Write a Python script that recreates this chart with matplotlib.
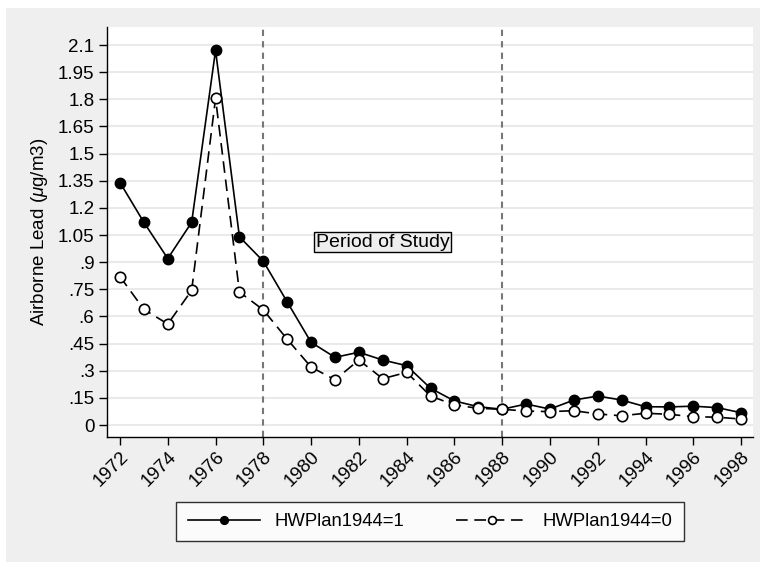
import matplotlib.pyplot as plt
import matplotlib.patches as mpatches
import numpy as np

plt.rcParams['font.family'] = ['Liberation Sans', 'DejaVu Sans']
plt.rcParams['mathtext.fontset'] = 'custom'
plt.rcParams['mathtext.it'] = 'Liberation Sans:italic'

years = np.arange(1972, 1999)
lead_plan1 = [1.34, 1.12, 0.92, 1.12, 2.07, 1.04, 0.905, 0.68, 0.457, 0.374, 0.402,
              0.359, 0.328, 0.203, 0.133, 0.101, 0.087, 0.116, 0.088, 0.138, 0.160,
              0.138, 0.101, 0.100, 0.104, 0.096, 0.068]
lead_plan0 = [0.82, 0.639, 0.558, 0.744, 1.805, 0.735, 0.636, 0.474, 0.32, 0.25, 0.359,
              0.256, 0.291, 0.16, 0.111, 0.092, 0.087, 0.077, 0.074, 0.079, 0.061,
              0.051, 0.065, 0.059, 0.046, 0.043, 0.033]
yticks = [0, 0.15, 0.3, 0.45, 0.6, 0.75, 0.9, 1.05, 1.2, 1.35, 1.5, 1.65, 1.8, 1.95, 2.1]
ytick_labels = ['0', '.15', '.3', '.45', '.6', '.75', '.9', '1.05', '1.2', '1.35',
                '1.5', '1.65', '1.8', '1.95', '2.1']
study_years = [1978, 1988]

W, H = 760, 562
fig = plt.figure(figsize=(W / 100, H / 100), dpi=100, facecolor='white')
# fond gris façon Stata
fig.patches.append(mpatches.Rectangle((6 / W, 0), 1, 1 - 8 / H, transform=fig.transFigure,
                                      facecolor='#efefef', edgecolor='none', zorder=-10))

ax = fig.add_axes([107 / W, 1 - 437 / H, (753 - 107) / W, (437 - 27) / H])
ax.set_facecolor('white')

for y in yticks:
    ax.axhline(y, color='#eaeaea', lw=1.5, zorder=0)
for yr in study_years:
    ax.axvline(yr, color='#777777', lw=1.5, ls=(0, (3, 2.5)), zorder=1)

ax.plot(years, lead_plan1, '-', color='black', lw=1.2, marker='o', ms=7.5,
        mfc='black', mec='black', zorder=3, label='HWPlan1944=1')
ax.plot(years, lead_plan0, color='black', lw=1.2, ls=(0, (7, 4)), marker='o', ms=7.5,
        mfc='white', mec='black', mew=1.2, zorder=3, label='HWPlan1944=0')

ax.text(1983, 1.01, 'Period of Study', fontsize=14, ha='center', va='center',
        bbox=dict(boxstyle='square,pad=0.08', facecolor='#eeeeee', edgecolor='black', lw=1))

ax.set_xlim(1971.456, 1998.5)
ax.set_ylim(-0.0663, 2.1995)
ax.set_xticks(np.arange(1972, 1999, 2))
ax.set_xticklabels([str(y) for y in range(1972, 1999, 2)], rotation=45, ha='right',
                   rotation_mode='anchor', fontsize=13.5)
ax.set_yticks(yticks)
ax.set_yticklabels(ytick_labels, fontsize=13.5)
ax.tick_params(axis='both', direction='out', length=6, width=1, color='black')
ax.tick_params(axis='y', pad=3)
ax.tick_params(axis='x', pad=2)
for s in ['top', 'right']:
    ax.spines[s].set_visible(False)
for s in ['left', 'bottom']:
    ax.spines[s].set_linewidth(1)
ax.set_ylabel(r'Airborne Lead ($\mu$g/m3)', fontsize=13.5, labelpad=6)

leg = fig.legend(loc='center', bbox_to_anchor=(430 / W, 1 - 521.5 / H), ncol=2,
                 fontsize=13.3, frameon=True, fancybox=False, edgecolor='black',
                 handlelength=3.9, handletextpad=0.8, columnspacing=2.8,
                 markerscale=0.75, borderpad=0.6)
leg.get_frame().set_linewidth(1)

fig.savefig('out.png', dpi=100, facecolor=fig.get_facecolor())
